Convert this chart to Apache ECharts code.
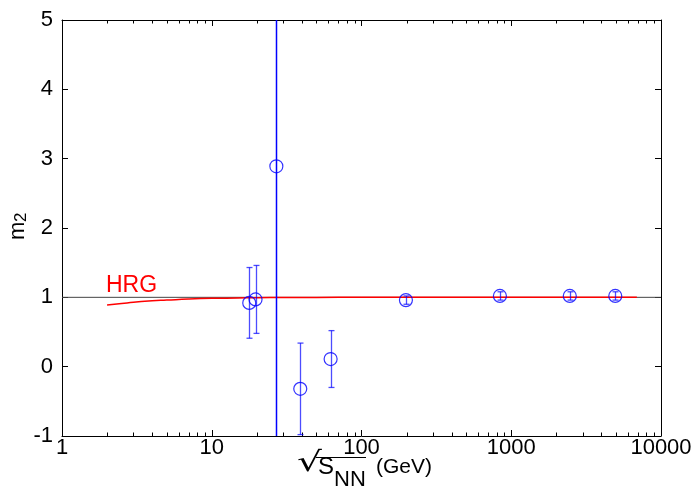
<!DOCTYPE html>
<html>
<head>
<meta charset="utf-8">
<script src="https://cdn.jsdelivr.net/npm/echarts@6/dist/echarts.min.js"></script>
<style>html,body{margin:0;padding:0;background:#fff}#c{width:700px;height:491px}</style>
</head>
<body>
<div id="c"></div>
<script>
// ---- data ----
const energies = [17.8, 19.6, 27, 39, 62.2, 198, 840, 2460, 4950];
const m2Values = [0.92, 0.97, 2.89, -0.32, 0.11, 0.96, 1.02, 1.02, 1.02];
const m2Errors = [0.51, 0.49, 7.0, 0.66, 0.41, 0.06, 0.06, 0.06, 0.06];
const hrgEnergies = [2, 2.5, 3, 4, 5, 7, 10, 15, 20, 30, 50, 100, 300, 1000, 3000, 6900];
const hrgValues = [0.89, 0.91, 0.93, 0.95, 0.96, 0.975, 0.985, 0.99, 0.995, 0.997, 0.999, 1.0, 1.0, 1.0, 1.0, 1.0];
const xTickLabels = ['1', '10', '100', '1000', '10000'];
const xMinorTicks = [2,3,4,5,6,7,8,9,20,30,40,50,60,70,80,90,200,300,400,500,600,700,800,900,2000,3000,4000,5000,6000,7000,8000,9000];
const refLevel = 1;

const chart = echarts.init(document.getElementById('c'), null, {renderer: 'canvas'});
const FONT = '"Liberation Sans", Arial, sans-serif';
const BLUE = '#0000ff';

const errData = energies.map((e, i) => [e, m2Values[i] - m2Errors[i], m2Values[i] + m2Errors[i]]);

const axisCommon = {
  axisLine: {show: true, onZero: false, lineStyle: {color: '#000', width: 1}},
  axisTick: {show: true, inside: true, length: 6, lineStyle: {color: '#000'}},
  splitLine: {show: false}
};

const option = {
  animation: false,
  backgroundColor: '#fff',
  grid: {left: 62, right: 39, top: 20, bottom: 55, show: false},
  xAxis: [
    Object.assign({
      type: 'log', logBase: 10, min: 1, max: 10000, position: 'bottom',
      axisLabel: {show: true, margin: 1, color: '#000', fontSize: 22, fontFamily: FONT,
        formatter: (v) => xTickLabels[Math.round(Math.log10(v))]}
    }, axisCommon),
    Object.assign({
      type: 'log', logBase: 10, min: 1, max: 10000, position: 'top',
      axisLabel: {show: false}
    }, axisCommon)
  ],
  yAxis: [
    Object.assign({
      type: 'value', min: -1, max: 5, interval: 1, position: 'left',
      axisLabel: {show: true, margin: 9, color: '#000', fontSize: 22, fontFamily: FONT}
    }, axisCommon),
    Object.assign({
      type: 'value', min: -1, max: 5, interval: 1, position: 'right',
      axisLabel: {show: false}
    }, axisCommon)
  ],
  series: [
    {
      // minor log ticks on bottom and top
      type: 'custom', xAxisIndex: 0, yAxisIndex: 0, silent: true,
      data: xMinorTicks.map(v => [v, -1]),
      renderItem: function (params, api) {
        const p = api.coord([api.value(0), -1]);
        const cs = params.coordSys;
        const x = Math.round(p[0]) + 0.5;
        return {
          type: 'group',
          children: [
            {type: 'line', shape: {x1: x, y1: cs.y + cs.height, x2: x, y2: cs.y + cs.height - 3.5}, style: {stroke: '#000', lineWidth: 1}},
            {type: 'line', shape: {x1: x, y1: cs.y, x2: x, y2: cs.y + 3.5}, style: {stroke: '#000', lineWidth: 1}}
          ]
        };
      }
    },
    {
      // reference line at m2 = 1
      type: 'line', xAxisIndex: 0, yAxisIndex: 0, symbol: 'none', silent: true,
      data: [[1, refLevel], [10000, refLevel]],
      lineStyle: {color: '#444', width: 1}, z: 2
    },
    {
      name: 'HRG', type: 'line', xAxisIndex: 0, yAxisIndex: 0, symbol: 'none', smooth: true,
      data: hrgEnergies.map((e, i) => [e, hrgValues[i]]),
      lineStyle: {color: '#ff0000', width: 1.5}, z: 3
    },
    {
      // error bars
      type: 'custom', xAxisIndex: 0, yAxisIndex: 0, clip: true, z: 4,
      data: errData,
      renderItem: function (params, api) {
        const lo = api.coord([api.value(0), api.value(1)]);
        const hi = api.coord([api.value(0), api.value(2)]);
        const x = Math.round(lo[0]) + 0.5;
        const big = (api.value(2) - api.value(1)) > 5;
        const c = 3;
        const st = {stroke: big ? BLUE : 'rgba(0,0,255,0.7)', lineWidth: big ? 1.5 : 1.3};
        return {
          type: 'group',
          children: [
            {type: 'line', shape: {x1: x, y1: lo[1], x2: x, y2: hi[1]}, style: st},
            {type: 'line', shape: {x1: x - c, y1: lo[1], x2: x + c, y2: lo[1]}, style: st},
            {type: 'line', shape: {x1: x - c, y1: hi[1], x2: x + c, y2: hi[1]}, style: st}
          ]
        };
      }
    },
    {
      type: 'scatter', xAxisIndex: 0, yAxisIndex: 0, symbol: 'circle', symbolSize: 13, z: 5,
      data: energies.map((e, i) => [e, m2Values[i]]),
      itemStyle: {color: 'rgba(0,0,0,0)', borderColor: BLUE, borderWidth: 1.2}
    }
  ],
  graphic: [
    {type: 'text', left: 106, top: 274, style: {text: 'HRG', fill: '#ff0000', font: '23px ' + FONT}},
    {type: 'text', x: 18, y: 240, rotation: Math.PI / 2,
      style: {text: 'm', fill: '#000', font: '22px ' + FONT, align: 'left', verticalAlign: 'middle'}},
    {type: 'text', x: 21, y: 222, rotation: Math.PI / 2,
      style: {text: '2', fill: '#000', font: '17px ' + FONT, align: 'left', verticalAlign: 'middle'}},
    {type: 'text', x: 297, y: 450, scaleX: 1.7, scaleY: 1.2, style: {text: '\u221A', fill: '#000', font: '23px "DejaVu Sans"'}},
    {type: 'line', shape: {x1: 316, y1: 457.5, x2: 366, y2: 457.5}, style: {stroke: '#000', lineWidth: 1.2}},
    {type: 'text', left: 318, top: 455, style: {text: 'S', fill: '#000', font: '24px ' + FONT}},
    {type: 'text', left: 334, top: 469, style: {text: 'NN', fill: '#000', font: '22px ' + FONT}},
    {type: 'text', left: 376, top: 457, style: {text: '(GeV)', fill: '#000', font: '21px ' + FONT}}
  ]
};
chart.setOption(option);
</script>
</body>
</html>
